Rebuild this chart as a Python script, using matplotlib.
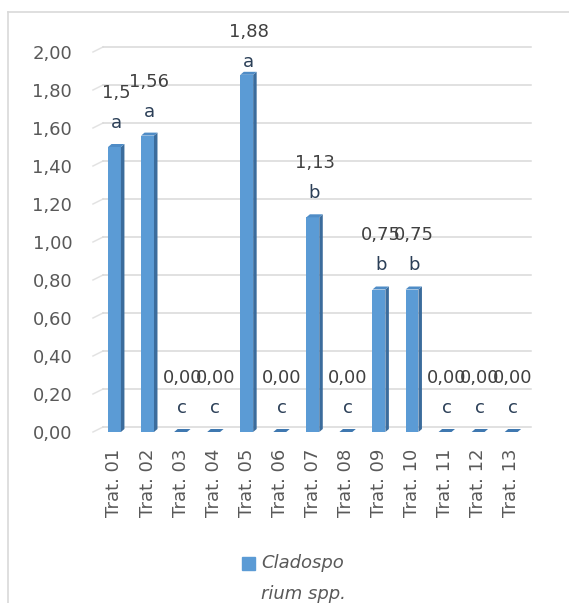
import matplotlib.pyplot as plt
from matplotlib.patches import Polygon, Rectangle
from matplotlib.lines import Line2D

# data
tratamentos = ['Trat. 01', 'Trat. 02', 'Trat. 03', 'Trat. 04', 'Trat. 05', 'Trat. 06', 'Trat. 07',
               'Trat. 08', 'Trat. 09', 'Trat. 10', 'Trat. 11', 'Trat. 12', 'Trat. 13']
valores = [1.5, 1.56, 0.0, 0.0, 1.88, 0.0, 1.13, 0.0, 0.75, 0.75, 0.0, 0.0, 0.0]
rotulos = ['1,5', '1,56', '0,00', '0,00', '1,88', '0,00', '1,13', '0,00', '0,75', '0,75', '0,00', '0,00', '0,00']
letras = ['a', 'a', 'c', 'c', 'a', 'c', 'b', 'c', 'b', 'b', 'c', 'c', 'c']
yticks = [0.0, 0.2, 0.4, 0.6, 0.8, 1.0, 1.2, 1.4, 1.6, 1.8, 2.0]
serie = 'Cladospo\nrium spp.'

W, H = 569, 603
fig = plt.figure(figsize=(W / 100, H / 100), dpi=100)
plt.rcParams['font.family'] = ['DejaVu Sans']

# posicao do grafico em pixels (topo = 52, base = 432)
left, right, top, base = 93, 531, 52, 432
ax = fig.add_axes([left / W, 1 - base / H, (right - left) / W, (base - top) / H])
ax.set_xlim(-0.65, 12.6)
ax.set_ylim(0, 2.0)
for s in ax.spines.values():
    s.set_visible(False)
ax.set_facecolor('none')

px_x = (right - left) / 13.25
px_y = (base - top) / 2.0

cor = '#5b9bd5'
cor_lado = '#3b6c9c'
cor_topo = '#4f8cc6'
largura = 0.39
dx = 3.5 / px_x
dy = 3.0 / px_y

# grade (parede de fundo, deslocada)
gx = 10 / px_x
gy = 5 / px_y
for t in yticks:
    ax.add_line(Line2D([-0.65, -0.65 + gx], [t, t + gy], color='#e3e3e3', lw=1.1, zorder=1, clip_on=False))
    ax.add_line(Line2D([-0.65 + gx, 12.6], [t + gy, t + gy], color='#d9d9d9', lw=1.1, zorder=1, clip_on=False))

x = list(range(len(valores)))
ax.bar(x, valores, width=largura, color=cor, zorder=3)
for xi, v in zip(x, valores):
    x0, x1 = xi - largura / 2, xi + largura / 2
    if v > 0:
        ax.add_patch(Polygon([(x1, 0), (x1 + dx, dy), (x1 + dx, v + dy), (x1, v)],
                             closed=True, color=cor_lado, lw=0, zorder=3))
    ax.add_patch(Polygon([(x0, v), (x1, v), (x1 + dx, v + dy), (x0 + dx, v + dy)],
                         closed=True, color=cor_topo if v > 0 else '#3f78b0', lw=0, zorder=3))

# rotulos: valor e letra
for xi, v, r, l in zip(x, valores, rotulos, letras):
    top_px = base - v * px_y
    val_px = max(top_px - 54, 32)
    let_px = val_px + 30
    ax.text(xi + dx / 2, (base - val_px) / px_y, r, ha='center', va='center', fontsize=13,
            color='#404040', clip_on=False, zorder=5)
    ax.text(xi + dx / 2, (base - let_px) / px_y, l, ha='center', va='center', fontsize=13,
            color='#2b3f57', clip_on=False, zorder=5)

ax.set_yticks(yticks)
ax.set_yticklabels([f'{t:.2f}'.replace('.', ',') for t in yticks], fontsize=13, color='#595959')
ax.set_xticks(x)
ax.set_xticklabels(tratamentos, rotation=90, fontsize=13, color='#595959', va='top', ha='center')
ax.tick_params(axis='y', length=0, pad=15)
ax.tick_params(axis='x', length=0, pad=12)

# legenda
fig.patches.append(Rectangle((242 / W, 1 - 570 / H), 13 / W, 13 / H, transform=fig.transFigure,
                             color=cor, figure=fig))
fig.text(261 / W, 1 - 554 / H, serie, ha='left', va='top', fontsize=13, style='italic',
         color='#595959', linespacing=1.9)

# moldura
fig.add_artist(Line2D([8 / W, 8 / W], [0, 1 - 12 / H], transform=fig.transFigure, color='#d9d9d9', lw=1.2))
fig.add_artist(Line2D([8 / W, 1], [1 - 12 / H, 1 - 12 / H], transform=fig.transFigure, color='#d9d9d9', lw=1.2))

fig.savefig('out.png', dpi=100)
